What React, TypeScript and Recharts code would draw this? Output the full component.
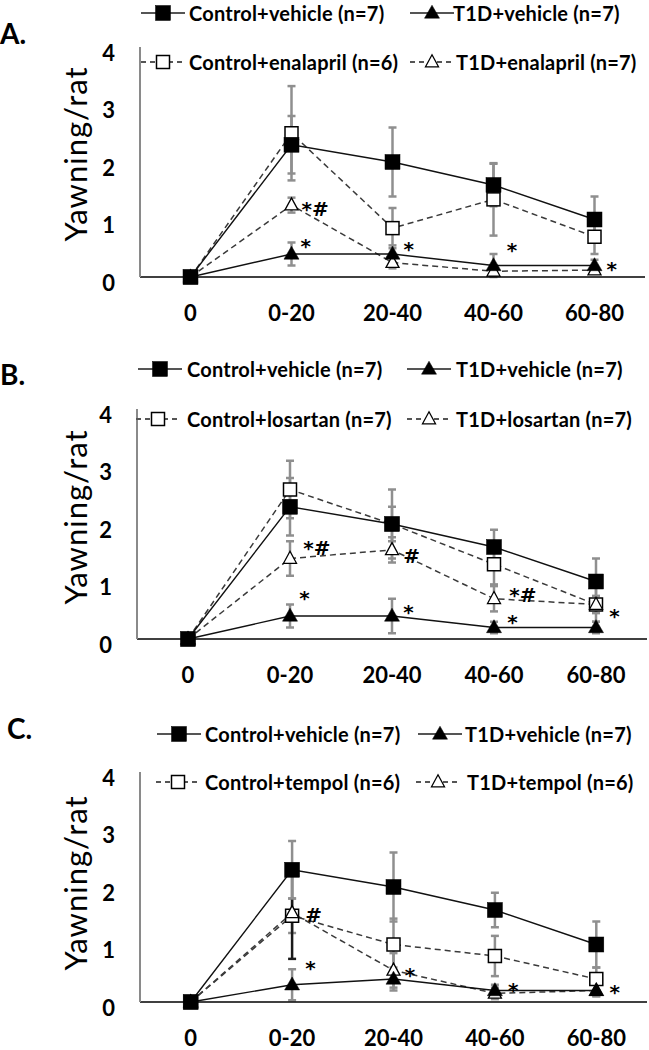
import { LineChart, Line, XAxis, YAxis, ErrorBar, ReferenceDot } from 'recharts'

const FONT = 'Lato, "Open Sans", Arial, sans-serif'
const NOTE_FONT = '"DejaVu Sans", Lato, sans-serif'

const TIMES = ['0', '0-20', '20-40', '40-60', '60-80']

// A. enalapril
const A_CTRL_VEH = [0, 2.3, 2.0, 1.6, 1.0]
const A_CTRL_VEH_SEM = [0, 0.5, 0.6, 0.37, 0.4]
const A_T1D_VEH = [0, 0.4, 0.4, 0.2, 0.2]
const A_T1D_VEH_SEM = [0, 0.2, 0.15, 0.2, 0.1]
const A_CTRL_DRUG = [0, 2.5, 0.85, 1.35, 0.7]
const A_CTRL_DRUG_SEM = [0, 0.82, 0.35, 0.63, 0.3]
const A_T1D_DRUG = [0, 1.25, 0.25, 0.1, 0.12]
const A_T1D_DRUG_SEM = [0, 0.13, 0.1, 0.05, 0.05]

// B. losartan
const B_CTRL_VEH = [0, 2.3, 2.0, 1.6, 1.0]
const B_CTRL_VEH_SEM = [0, 0.5, 0.6, 0.3, 0.4]
const B_T1D_VEH = [0, 0.4, 0.4, 0.2, 0.2]
const B_T1D_VEH_SEM = [0, 0.2, 0.3, 0.1, 0.1]
const B_CTRL_DRUG = [0, 2.6, 2.0, 1.3, 0.6]
const B_CTRL_DRUG_SEM = [0, 0.5, 0.3, 0.35, 0.3]
const B_T1D_DRUG = [0, 1.4, 1.55, 0.7, 0.6]
const B_T1D_DRUG_SEM = [0, 0.3, 0.22, 0.22, 0.15]

// C. tempol
const C_CTRL_VEH = [0, 2.3, 2.0, 1.6, 1.0]
const C_CTRL_VEH_SEM = [0, 0.5, 0.6, 0.3, 0.4]
const C_T1D_VEH = [0, 0.3, 0.4, 0.2, 0.2]
const C_T1D_VEH_SEM = [0, 0.27, 0.2, 0.1, 0.1]
const C_CTRL_DRUG = [0, 1.5, 1.0, 0.8, 0.4]
const C_CTRL_DRUG_SEM = [0, 0.3, 0.45, 0.35, 0.2]
const C_T1D_DRUG = [0, 1.55, 0.55, 0.15, 0.2]
const C_T1D_DRUG_SEM = [0, 0, 0.3, 0.1, 0.1]
const C_T1D_DRUG_SEM_DARK = [0, 0.8, 0, 0, 0]

const VEH_LABELS = ['Control+vehicle (n=7)', 'T1D+vehicle (n=7)']
const A_DRUG_LABELS = ['Control+enalapril (n=6)', 'T1D+enalapril (n=7)']
const B_DRUG_LABELS = ['Control+losartan (n=7)', 'T1D+losartan (n=7)']
const C_DRUG_LABELS = ['Control+tempol (n=6)', 'T1D+tempol (n=6)']

// significance marks: x in time-bin units (left edge of text), y in yawning/rat
const A_NOTES = [
  { x: 1.1, y: 1.27, text: '*#' },
  { x: 1.09, y: 0.62, text: '*' },
  { x: 2.11, y: 0.57, text: '*' },
  { x: 3.13, y: 0.55, text: '*' },
  { x: 4.12, y: 0.22, text: '*' },
]
const B_NOTES = [
  { x: 1.13, y: 1.67, text: '*#' },
  { x: 1.09, y: 0.8, text: '*' },
  { x: 2.11, y: 1.53, text: '#' },
  { x: 2.11, y: 0.56, text: '*' },
  { x: 3.15, y: 0.85, text: '*#' },
  { x: 3.13, y: 0.38, text: '*' },
  { x: 4.13, y: 0.49, text: '*' },
]
const C_NOTES = [
  { x: 1.13, y: 1.6, text: '#' },
  { x: 1.13, y: 0.68, text: '*' },
  { x: 2.11, y: 0.56, text: '*' },
  { x: 3.13, y: 0.3, text: '*' },
  { x: 4.13, y: 0.26, text: '*' },
]

const toRows = (cv, cvE, tv, tvE, cd, cdE, td, tdE, tdDark?) =>
  TIMES.map((t, i) => ({
    x: i,
    cv: cv[i], cvErr: cvE[i],
    tv: tv[i], tvErr: tvE[i],
    cd: cd[i], cdErr: cdE[i],
    td: td[i], tdErr: tdE[i],
    tdDark: tdDark ? tdDark[i] : 0,
  }))

const ROWS_A = toRows(A_CTRL_VEH, A_CTRL_VEH_SEM, A_T1D_VEH, A_T1D_VEH_SEM, A_CTRL_DRUG, A_CTRL_DRUG_SEM, A_T1D_DRUG, A_T1D_DRUG_SEM)
const ROWS_B = toRows(B_CTRL_VEH, B_CTRL_VEH_SEM, B_T1D_VEH, B_T1D_VEH_SEM, B_CTRL_DRUG, B_CTRL_DRUG_SEM, B_T1D_DRUG, B_T1D_DRUG_SEM)
const ROWS_C = toRows(C_CTRL_VEH, C_CTRL_VEH_SEM, C_T1D_VEH, C_T1D_VEH_SEM, C_CTRL_DRUG, C_CTRL_DRUG_SEM, C_T1D_DRUG, C_T1D_DRUG_SEM, C_T1D_DRUG_SEM_DARK)

// draw order: drug groups underneath, vehicle groups on top
const SERIES = [
  { key: 'cd', shape: 'square', filled: false, dashed: true },
  { key: 'td', shape: 'triangle', filled: false, dashed: true },
  { key: 'tv', shape: 'triangle', filled: true, dashed: false },
  { key: 'cv', shape: 'square', filled: true, dashed: false },
]

function Marker({ cx, cy, shape, filled }: any) {
  if (cx == null || cy == null) return null
  const fill = filled ? '#000' : '#fff'
  if (shape === 'square') {
    const s = filled ? 15 : 13
    return (
      <rect x={cx - s / 2} y={cy - s / 2} width={s} height={s}
        fill={fill} stroke="#000" strokeWidth={filled ? 0.5 : 1.5} />
    )
  }
  const w = filled ? 15 : 13
  const h = filled ? 13 : 12
  return (
    <path
      d={`M${cx},${cy - h * 0.6} L${cx + w / 2},${cy + h * 0.4} L${cx - w / 2},${cy + h * 0.4} Z`}
      fill={fill} stroke="#000" strokeWidth={filled ? 0.5 : 1.3} strokeLinejoin="miter"
    />
  )
}

const AXIS_TICK = { fontSize: 22, fontWeight: 700, fill: '#000', fontFamily: FONT }

function PanelChart({ rows, notes, top, left, right }: any) {
  return (
    <div style={{ position: 'absolute', left: 0, top }}>
      <LineChart width={649} height={290} data={rows}
        margin={{ top: 10, right, bottom: 10, left }}>
        <XAxis type="number" dataKey="x" domain={[-0.5, 4.5]} ticks={[0, 1, 2, 3, 4]}
          interval={0} allowDataOverflow
          tickFormatter={(v: number) => TIMES[v] ?? ''}
          axisLine={{ stroke: '#000', strokeWidth: 1.5 }} tickLine={false}
          tickMargin={22} height={40} tick={AXIS_TICK} />
        <XAxis xAxisId="bins" type="number" domain={[-0.5, 4.5]}
          ticks={[0.5, 1.5, 2.5, 3.5, 4.5]} interval={0} allowDataOverflow
          mirror tick={false} axisLine={false} tickSize={6}
          tickLine={{ stroke: '#000', strokeWidth: 1.5 }} />
        <YAxis type="number" domain={[0, 4]} ticks={[0, 1, 2, 3, 4]} interval={0}
          width={80} axisLine={false} tickLine={false} tickMargin={19}
          tick={{ ...AXIS_TICK, dy: 6 }} />
        <YAxis yAxisId="frame" type="number" domain={[0, 4]} ticks={[0, 1, 2, 3, 4]}
          interval={0} mirror tick={false} tickSize={6}
          axisLine={{ stroke: '#8a8a8a', strokeWidth: 2 }}
          tickLine={{ stroke: '#8a8a8a', strokeWidth: 1.5 }} />
        {SERIES.map((s) => (
          <Line key={s.key} type="linear" dataKey={s.key}
            stroke={s.dashed ? '#3a3a3a' : '#111'}
            strokeWidth={s.dashed ? 1.5 : 1.4}
            strokeDasharray={s.dashed ? '6 4' : undefined}
            isAnimationActive={false} activeDot={false}
            dot={(p: any) => (
              <Marker key={`${s.key}-${p.index}`} cx={p.cx} cy={p.cy}
                shape={s.shape} filled={s.filled} />
            )}>
            <ErrorBar dataKey={`${s.key}Err`} direction="y" width={4}
              stroke="#8f8f8f" strokeWidth={2.5} isAnimationActive={false} />
            {s.key === 'td' && (
              <ErrorBar dataKey="tdDark" direction="y" width={4}
                stroke="#1a1a1a" strokeWidth={2.5} isAnimationActive={false} />
            )}
          </Line>
        ))}
        {notes.map((n: any, i: number) => (
          <ReferenceDot key={i} x={n.x} y={n.y} r={0} stroke="none" fill="none"
            label={{ value: n.text, position: 'right', offset: 0, dy: 5,
              fill: '#000', fontSize: 20, fontWeight: 700, fontFamily: NOTE_FONT }} />
        ))}
      </LineChart>
    </div>
  )
}

function LegendKey({ cx, y, textX, label, shape, filled, dashed }: any) {
  return (
    <>
      <svg style={{ position: 'absolute', left: cx - 22, top: y - 10 }} width={44} height={20}>
        <line x1={0} x2={44} y1={10} y2={10} stroke="#555" strokeWidth={2}
          strokeDasharray={dashed ? '5 4' : undefined} />
        <Marker cx={22} cy={10} shape={shape} filled={filled} />
      </svg>
      <div style={{
        position: 'absolute', left: textX, top: y - 13, fontSize: 20, fontWeight: 700,
        letterSpacing: 0.2, lineHeight: '26px', whiteSpace: 'nowrap', fontFamily: FONT, color: '#000',
      }}>
        {label}
      </div>
    </>
  )
}

function PanelText({ letter, letterX, letterY, titleY, rowsY, keys, drugLabels }: any) {
  const labels = [...VEH_LABELS, ...drugLabels]
  const kinds = [
    { shape: 'square', filled: true, dashed: false },
    { shape: 'triangle', filled: true, dashed: false },
    { shape: 'square', filled: false, dashed: true },
    { shape: 'triangle', filled: false, dashed: true },
  ]
  return (
    <>
      <div style={{
        position: 'absolute', left: letterX, top: letterY - 16, fontSize: 28, fontWeight: 700,
        lineHeight: '32px', fontFamily: FONT,
      }}>
        {letter}
      </div>
      <div style={{
        position: 'absolute', left: 75, top: titleY, transform: 'translate(-50%, -50%) rotate(-90deg)',
        fontSize: 31, letterSpacing: 1, fontFamily: FONT, whiteSpace: 'nowrap', lineHeight: '34px',
      }}>
        Yawning/rat
      </div>
      {labels.map((l, i) => (
        <LegendKey key={i} cx={keys[i][0]} textX={keys[i][1]} y={rowsY[i < 2 ? 0 : 1]}
          label={l} {...kinds[i]} />
      ))}
    </>
  )
}

export default function App() {
  return (
    <div style={{
      position: 'absolute', left: 0, top: 0, width: 649, height: 1050,
      background: '#fff', overflow: 'hidden',
    }}>
      <PanelChart rows={ROWS_A} notes={A_NOTES} top={37} left={60} right={4} />
      <PanelChart rows={ROWS_B} notes={B_NOTES} top={399} left={57} right={2} />
      <PanelChart rows={ROWS_C} notes={C_NOTES} top={762} left={60} right={2} />
      <PanelText letter="A." letterX={0} letterY={33} titleY={154} rowsY={[13, 62]}
        keys={[[163, 189], [432, 453], [163, 189], [432, 456]]} drugLabels={A_DRUG_LABELS} />
      <PanelText letter="B." letterX={0} letterY={374} titleY={517} rowsY={[369, 419]}
        keys={[[160, 187], [429, 456], [158, 187], [429, 456]]} drugLabels={B_DRUG_LABELS} />
      <PanelText letter="C." letterX={7} letterY={728} titleY={883} rowsY={[734, 782]}
        keys={[[179, 205], [440, 465], [178, 205], [438, 467]]} drugLabels={C_DRUG_LABELS} />
    </div>
  )
}
